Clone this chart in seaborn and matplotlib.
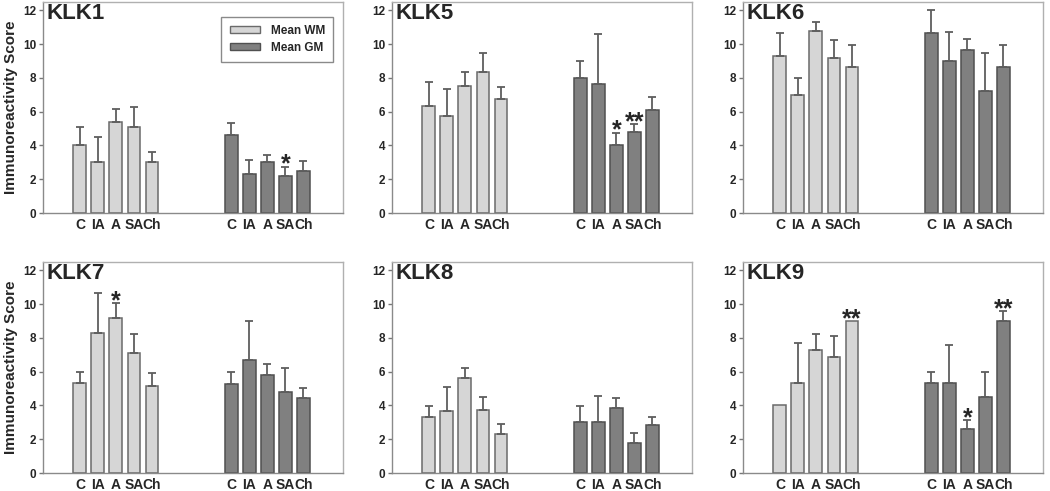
import numpy as np
import pandas as pd
import matplotlib.pyplot as plt
from matplotlib.patches import Patch
import seaborn as sns

# groups on the x axis
groups = ['C', 'IA', 'A', 'SA', 'Ch']

# mean and upper error (mean + SD top) per panel, white matter / grey matter
klk1_wm = [4.0, 3.0, 5.4, 5.1, 3.0]
klk1_wm_top = [5.12, 4.53, 6.17, 6.26, 3.64]
klk1_gm = [4.65, 2.3, 3.0, 2.17, 2.5]
klk1_gm_top = [5.32, 3.16, 3.46, 2.75, 3.1]

klk5_wm = [6.33, 5.72, 7.5, 8.38, 6.75]
klk5_wm_top = [7.78, 7.35, 8.38, 9.5, 7.48]
klk5_gm = [8.0, 7.66, 4.0, 4.78, 6.13]
klk5_gm_top = [9.0, 10.62, 4.76, 5.28, 6.86]

klk6_wm = [9.3, 6.97, 10.8, 9.2, 8.64]
klk6_wm_top = [10.65, 8.0, 11.3, 10.22, 9.97]
klk6_gm = [10.65, 9.0, 9.67, 7.22, 8.64]
klk6_gm_top = [12.0, 10.7, 10.32, 9.45, 9.97]

klk7_wm = [5.35, 8.32, 9.18, 7.1, 5.14]
klk7_wm_top = [5.99, 10.66, 10.05, 8.22, 5.9]
klk7_gm = [5.3, 6.69, 5.8, 4.8, 4.43]
klk7_gm_top = [5.97, 9.03, 6.45, 6.25, 5.03]

klk8_wm = [3.32, 3.65, 5.6, 3.74, 2.32]
klk8_wm_top = [3.98, 5.1, 6.22, 4.5, 2.9]
klk8_gm = [3.0, 3.0, 3.88, 1.79, 2.82]
klk8_gm_top = [3.98, 4.55, 4.43, 2.38, 3.3]

klk9_wm = [4.0, 5.34, 7.27, 6.88, 9.0]
klk9_wm_top = [4.0, 7.68, 8.24, 8.1, 9.0]
klk9_gm = [5.34, 5.34, 2.62, 4.5, 9.0]
klk9_gm_top = [5.98, 7.6, 3.12, 5.98, 9.6]

# significance marks: (panel, matter, group index, text)
stars = [
    ('KLK1', 'GM', 3, '*'),
    ('KLK5', 'GM', 2, '*'),
    ('KLK5', 'GM', 3, '**'),
    ('KLK7', 'WM', 2, '*'),
    ('KLK9', 'WM', 4, '**'),
    ('KLK9', 'GM', 2, '*'),
    ('KLK9', 'GM', 4, '**'),
]

panels = [
    ('KLK1', klk1_wm, klk1_wm_top, klk1_gm, klk1_gm_top),
    ('KLK5', klk5_wm, klk5_wm_top, klk5_gm, klk5_gm_top),
    ('KLK6', klk6_wm, klk6_wm_top, klk6_gm, klk6_gm_top),
    ('KLK7', klk7_wm, klk7_wm_top, klk7_gm, klk7_gm_top),
    ('KLK8', klk8_wm, klk8_wm_top, klk8_gm, klk8_gm_top),
    ('KLK9', klk9_wm, klk9_wm_top, klk9_gm, klk9_gm_top),
]

sns.set_style('white')
plt.rcParams['font.family'] = ['Liberation Sans', 'DejaVu Sans']
plt.rcParams['font.weight'] = 'bold'
narrow = ['Liberation Sans Narrow', 'Liberation Sans', 'DejaVu Sans']

wm_fill, wm_edge = '#d6d6d6', '#6a6a6a'
gm_fill, gm_edge = '#808080', '#505050'
err_col = '#5e5e5e'

fig = plt.figure(figsize=(10.5, 4.91), dpi=100)
lefts = [43 / 1050, 392 / 1050, 743 / 1050]
bottoms = [1 - 213 / 491, 1 - 473 / 491]
w, h = 300 / 1050, 211 / 491

gap = 8.4
wm_pos = np.arange(5, dtype=float)
gm_pos = wm_pos + gap

for k, (name, wm, wm_top, gm, gm_top) in enumerate(panels):
    row, col = divmod(k, 3)
    ax = fig.add_axes([lefts[col], bottoms[row], w, h])

    df = pd.DataFrame({
        'pos': np.concatenate([wm_pos, gm_pos]),
        'mean': wm + gm,
        'top': wm_top + gm_top,
        'matter': ['WM'] * 5 + ['GM'] * 5,
    })
    for matter, fill, edge in [('WM', wm_fill, wm_edge), ('GM', gm_fill, gm_edge)]:
        sub = df[df['matter'] == matter]
        sns.barplot(data=sub, x='pos', y='mean', native_scale=True, errorbar=None,
                    color=fill, saturation=1, width=0.72, edgecolor=edge,
                    linewidth=1.1, ax=ax)
        has_err = sub['top'] > sub['mean'] + 1e-9
        e = sub[has_err]
        ax.errorbar(e['pos'], e['mean'], yerr=[np.zeros(len(e)), e['top'] - e['mean']],
                    fmt='none', ecolor=err_col, elinewidth=1.3, capsize=3.2,
                    capthick=1.3, zorder=1)

    for pname, matter, idx, txt in stars:
        if pname != name:
            continue
        sub = df[df['matter'] == matter].reset_index(drop=True)
        ax.text(sub.loc[idx, 'pos'], sub.loc[idx, 'top'] - 0.3, txt,
                ha='center', va='baseline', fontsize=18, fontweight='bold')

    ax.set_xlim(-2.05, 14.6)
    ax.set_ylim(0, 12.5)
    ax.set_yticks([0, 2, 4, 6, 8, 10, 12])
    ax.set_xticks(np.concatenate([wm_pos, gm_pos]))
    ax.set_xticklabels(groups * 2, fontsize=10, fontweight='bold', family=narrow)
    ax.tick_params(axis='x', length=0, pad=3.5)
    ax.tick_params(axis='y', length=3, width=1, color='#777777', labelsize=8.5, pad=2,
                   direction='out', left=True)
    for lab in ax.get_yticklabels():
        lab.set_fontweight('bold')
    ax.set_xlabel('')
    ax.set_ylabel('')
    for side, sp in ax.spines.items():
        sp.set_visible(True)
        sp.set_linewidth(1.0)
        sp.set_color('#8a8a8a' if side in ('left', 'bottom') else '#b0b0b0')

    if col == 0:
        yc = bottoms[row] + h / 2
        fig.text(11 / 1050, yc, 'Immunoreactivity Score', rotation=90, ha='center',
                 va='center', fontsize=11, fontweight='bold')

    ax.text(0.012, 0.997, name, transform=ax.transAxes, ha='left', va='top',
            fontsize=16, fontweight='bold')

    if k == 0:
        handles = [Patch(facecolor=wm_fill, edgecolor=wm_edge, label='Mean WM'),
                   Patch(facecolor=gm_fill, edgecolor=gm_edge, label='Mean GM')]
        leg = ax.legend(handles=handles, loc='upper right', bbox_to_anchor=(0.968, 0.93),
                        prop={'size': 8.5, 'weight': 'bold'}, handlelength=2.6,
                        handleheight=0.5, borderpad=0.7, labelspacing=0.4,
                        handletextpad=0.9, borderaxespad=0, fancybox=False,
                        framealpha=1)
        leg.get_frame().set_edgecolor('#8a8a8a')
        leg.get_frame().set_linewidth(1.0)

fig.savefig('out.png', dpi=100)
